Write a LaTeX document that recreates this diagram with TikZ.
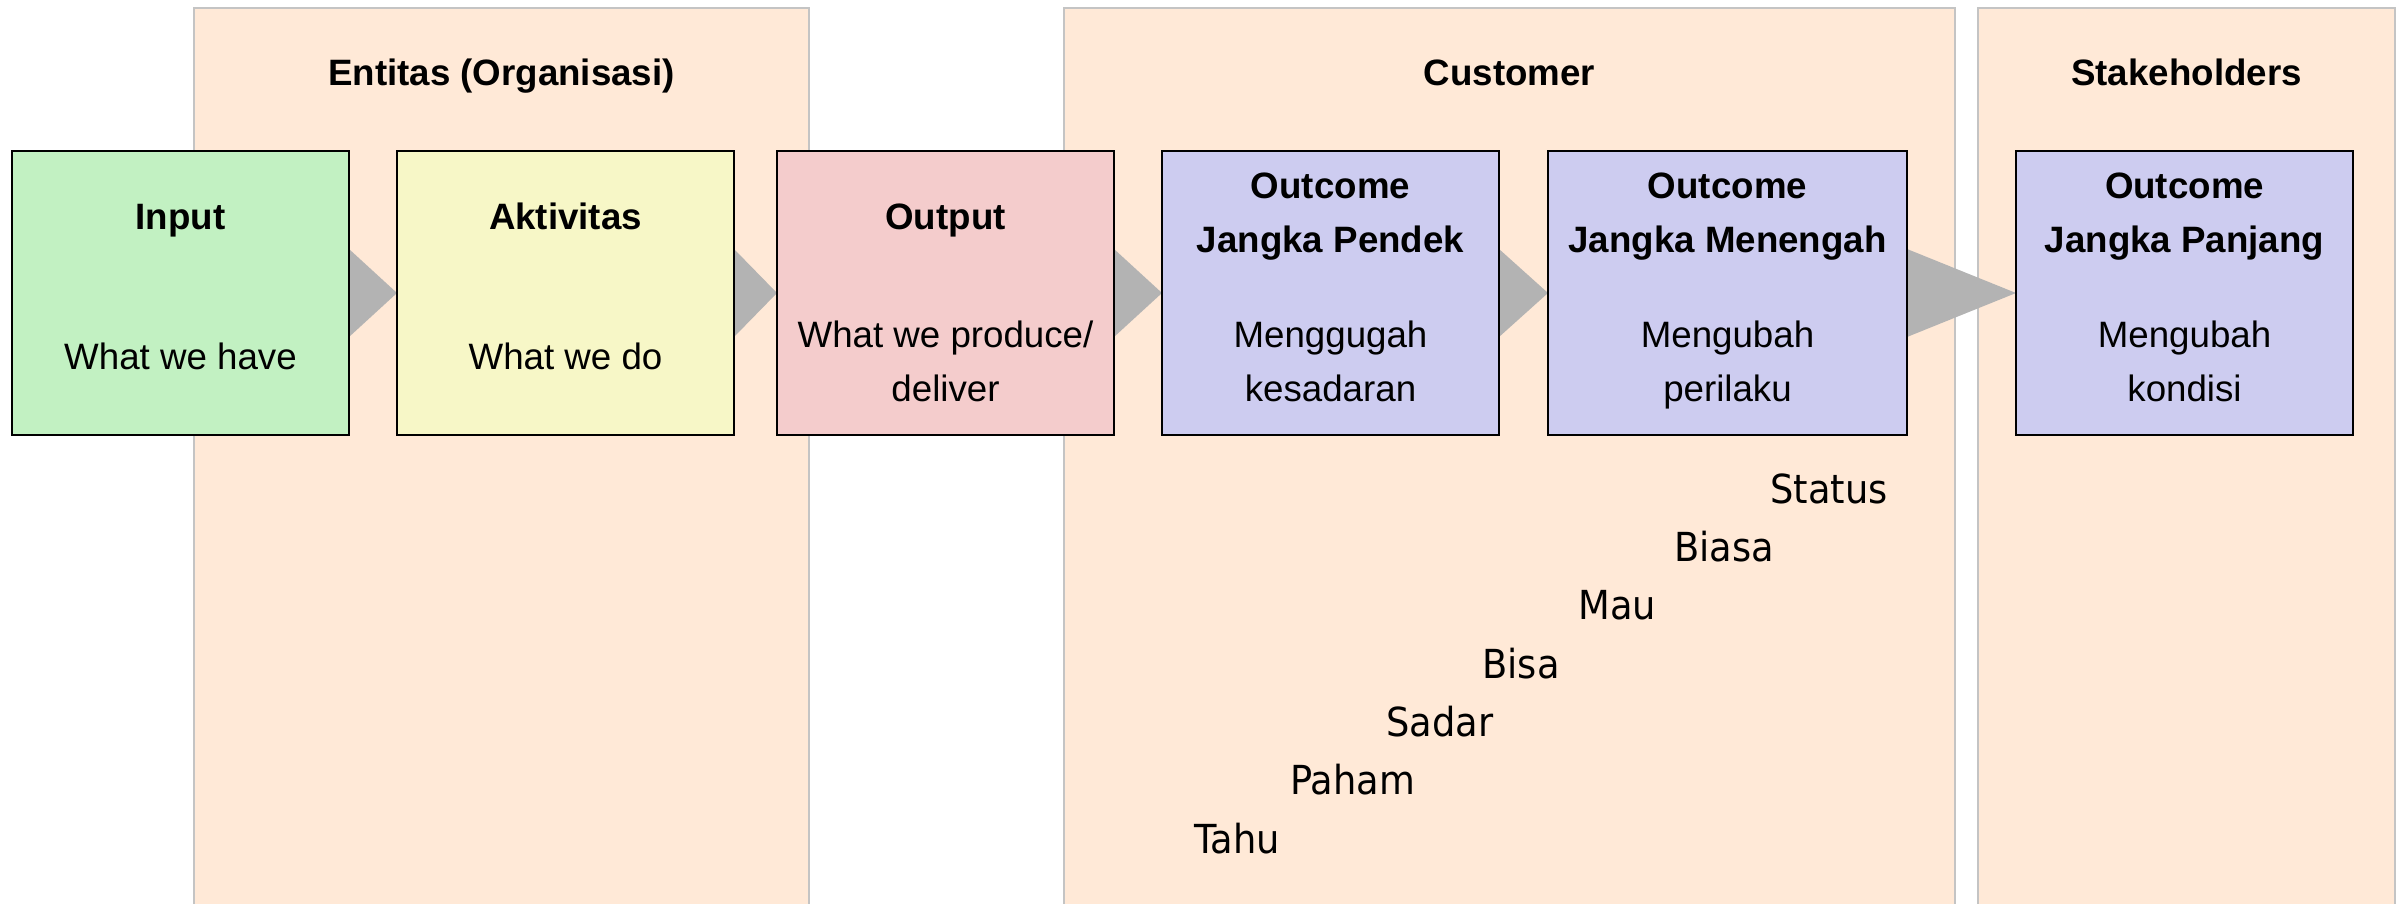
\documentclass[tikz,border=0pt]{standalone}
\usepackage{fontspec}
\setmainfont{Liberation Sans}
\newfontfamily\stepfont[FakeStretch=0.92]{DejaVu Sans}
\usepackage{tikz}
\usetikzlibrary{positioning,calc,backgrounds}

\definecolor{panelfill}{HTML}{FFE9D7}
\definecolor{panelline}{HTML}{C4C4C4}
\definecolor{inputfill}{HTML}{C2F1C2}
\definecolor{actfill}{HTML}{F7F7C7}
\definecolor{outfill}{HTML}{F4CCCC}
\definecolor{ocfill}{HTML}{CDCCF0}
\definecolor{chevgray}{HTML}{B3B3B3}

\begin{document}
\begin{tikzpicture}[
    x=0.5pt, y=-0.5pt,
    stage/.style={draw=black, line width=1.4pt, inner sep=0pt, outer sep=0pt, minimum width=168.5pt, minimum height=142pt},
    panel/.style={draw=panelline, line width=1pt, fill=panelfill, inner sep=0pt, outer sep=0pt, minimum height=460pt, anchor=north west},
    heading/.style={font=\bfseries\fontsize{18.35pt}{27pt}\selectfont, inner sep=0pt, anchor=base},
    ttl/.style={font=\bfseries\fontsize{18.35pt}{27pt}\selectfont, align=center, inner sep=0pt, execute at begin node=\strut, execute at end node=\strut},
    txt/.style={ttl, font=\fontsize{18.35pt}{27pt}\selectfont},
    lvl/.style={font=\stepfont\fontsize{20pt}{24pt}\selectfont, inner sep=0pt, anchor=base west},
    chev/.style={fill=chevgray}
  ]
    \useasboundingbox (0,0) rectangle (2402,904);

    % stages
    \node[stage, fill=inputfill] (inp) at (180.5,293) {};
    \node[stage, fill=actfill, right=24pt of inp] (akt) {};
    \node[stage, fill=outfill, right=21.5pt of akt] (out) {};
    \node[stage, fill=ocfill, right=24pt of out] (ocp) {};
    \node[stage, fill=ocfill, minimum width=179.5pt, right=24.5pt of ocp] (ocm) {};
    \node[stage, fill=ocfill, right=54.5pt of ocm] (ocl) {};

    \node[ttl] (inpT) at ($(inp)+(0,-74)$) {Input};
    \node[txt] (inpD) at ($(inp)+(0,66)$) {What we have};
    \node[ttl] (aktT) at ($(akt)+(0,-74)$) {Aktivitas};
    \node[txt] (aktD) at ($(akt)+(0,66)$) {What we do};
    \node[ttl] (outT) at ($(out)+(0,-74)$) {Output};
    \node[txt] (outD) at ($(out)+(0,76)$) {What we produce/\\deliver};
    \node[ttl] (ocpT) at ($(ocp)+(0,-72)$) {Outcome\\Jangka Pendek};
    \node[txt] (ocpD) at ($(ocp)+(0,76)$) {Menggugah\\kesadaran};
    \node[ttl] (ocmT) at ($(ocm)+(0,-72)$) {Outcome\\Jangka Menengah};
    \node[txt] (ocmD) at ($(ocm)+(0,76)$) {Mengubah\\perilaku};
    \node[ttl] (oclT) at ($(ocl)+(0,-72)$) {Outcome\\Jangka Panjang};
    \node[txt] (oclD) at ($(ocl)+(0,76)$) {Mengubah\\kondisi};

    % levels
    \node[lvl] (lvTahu) at (1194,853) {Tahu};
    \node[lvl] (lvPaham) at (1290,794.7) {Paham};
    \node[lvl] (lvSadar) at (1386,736.4) {Sadar};
    \node[lvl] (lvBisa) at (1482,678.1) {Bisa};
    \node[lvl] (lvMau) at (1578,619.8) {Mau};
    \node[lvl] (lvBiasa) at (1674,561.5) {Biasa};
    \node[lvl] (lvStatus) at (1770,503.2) {Status};

    \begin{scope}[on background layer]
      \node[panel, minimum width=307.5pt] (ent) at (194,8) {};
      \node[panel, minimum width=445.5pt] (cus) at (1064,8) {};
      \node[panel, minimum width=208.5pt] (stk) at (1978,8) {};
      \node[heading] (entT) at ($(ent.north)+(0,78)$) {Entitas (Organisasi)};
      \node[heading] (cusT) at ($(cus.north)+(0,78)$) {Customer};
      \node[heading] (stkT) at ($(stk.north)+(0,78)$) {Stakeholders};

      \fill[chev] ($(inp.east)+(0,-44)$) -- ($(inp.east)+(0,44)$) -- (akt.west) -- cycle;
      \fill[chev] ($(akt.east)+(0,-44)$) -- ($(akt.east)+(0,44)$) -- (out.west) -- cycle;
      \fill[chev] ($(out.east)+(0,-44)$) -- ($(out.east)+(0,44)$) -- (ocp.west) -- cycle;
      \fill[chev] ($(ocp.east)+(0,-44)$) -- ($(ocp.east)+(0,44)$) -- (ocm.west) -- cycle;
      \fill[chev] ($(ocm.east)+(0,-44)$) -- ($(ocm.east)+(0,44)$) -- (ocl.west) -- cycle;
    \end{scope}
  \end{tikzpicture}
\end{document}
